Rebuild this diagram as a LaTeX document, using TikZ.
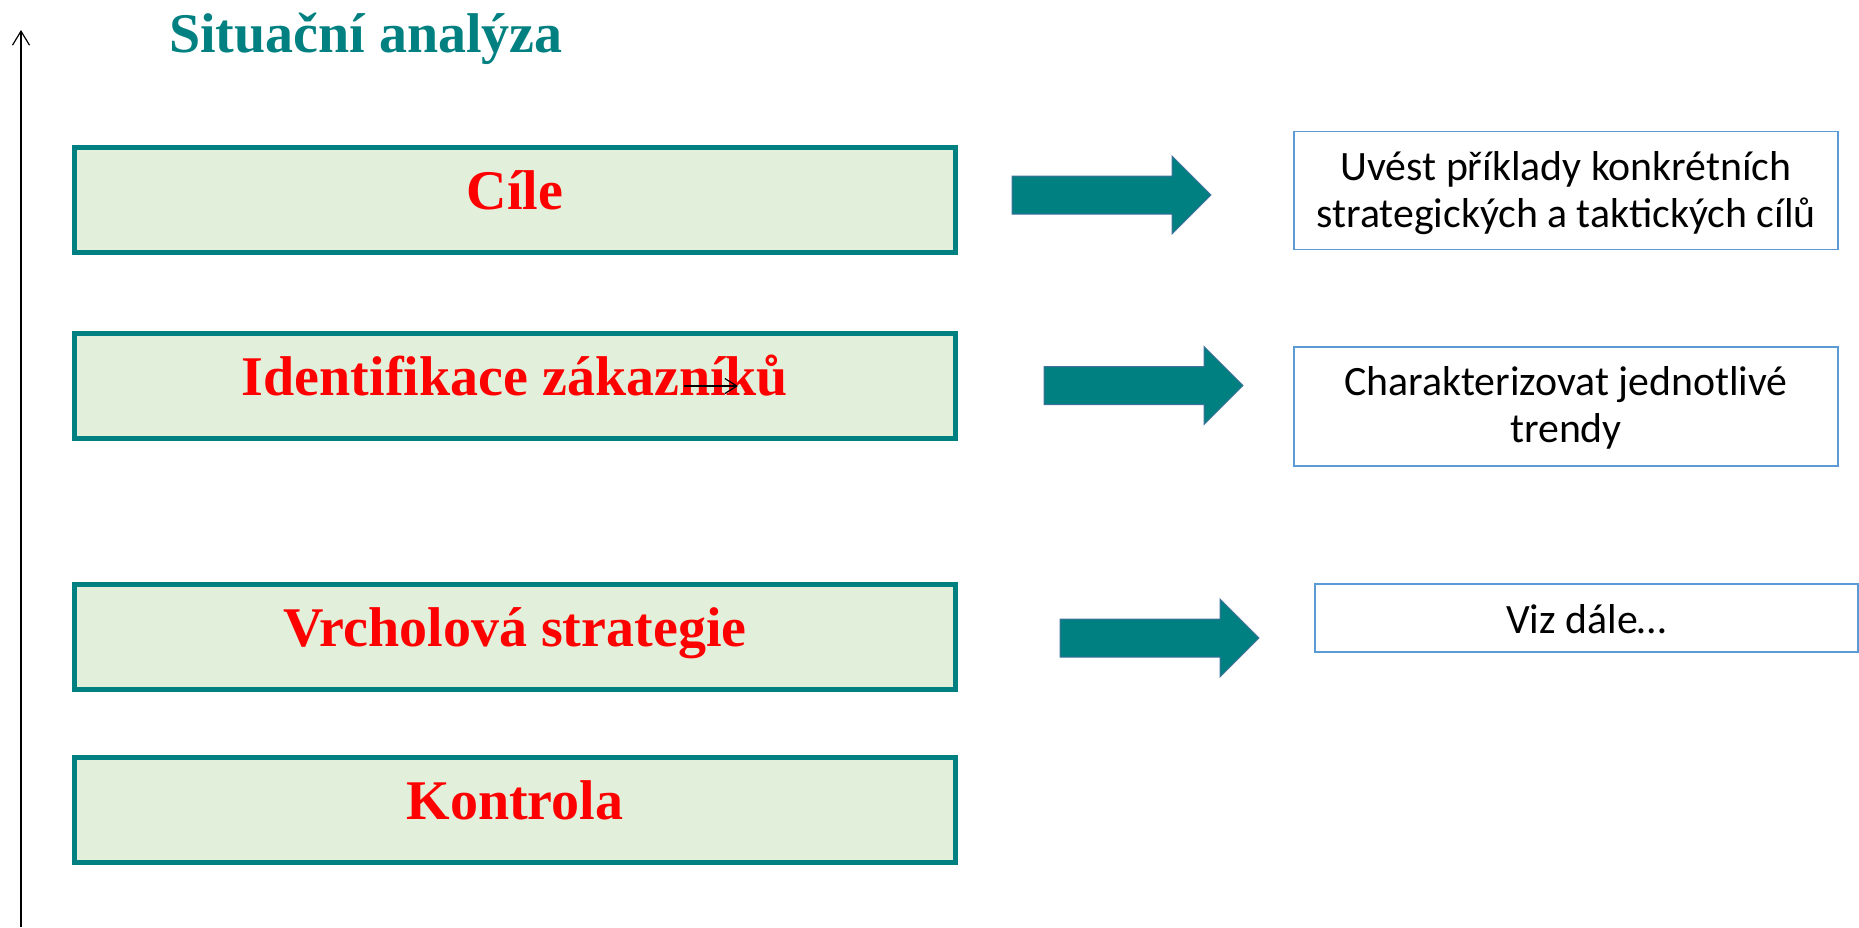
\documentclass[tikz,border=0pt]{standalone}
\usepackage{fontspec}
\setmainfont{Liberation Serif}
\newfontfamily\calib{Carlito}
\usetikzlibrary{arrows.meta}

\definecolor{tealc}{HTML}{008080}
\definecolor{paleg}{HTML}{E2EFDA}
\definecolor{boxblue}{HTML}{5B9BD5}
\definecolor{arrowedge}{HTML}{41719C}

\tikzset{
  stage/.style={draw=tealc, line width=2.5pt, fill=paleg, rectangle, inner sep=0pt,
    minimum width=440.5pt, minimum height=52.5pt,
    text=red, font={\fontsize{28}{32}\selectfont\bfseries},
    text height=15pt, text depth=5.5pt},
  notebox/.style={draw=boxblue, line width=0.7pt, fill=white, rectangle, inner sep=0pt},
  notetext/.style={anchor=base, inner sep=0pt, align=center,
    font={\calib\fontsize{20.9}{23.5}\selectfont}},
  arrowfill/.style={fill=tealc, draw=arrowedge, line width=0.5pt},
  blockarrow/.pic={\path[arrowfill] (0,-19) -- (160,-19) -- (160,-39) -- (199,0)
    -- (160,39) -- (160,19) -- (0,19) -- cycle;},
  thinarrow/.style={draw=black, line width=0.6pt, -{Straight Barb[length=7pt,width=8.5pt]}}
}

\begin{document}
\begin{tikzpicture}[x=0.5pt, y=-0.5pt]
\useasboundingbox (0,0) rectangle (1859,927);

% vertical axis
\coordinate (ax0) at (21,927);
\coordinate (ax1) at (21,30);
\draw[thinarrow] (ax0) -- (ax1);

% heading
\node[anchor=base, text=tealc, inner sep=0pt, font={\fontsize{28}{32}\selectfont\bfseries}]
  (title) at (366,52) {Situační analýza};

% stages
\node[stage] (cile) at (515,200) {Cíle};
\node[stage] (ident) at (515,386) {Identifikace zákazníků};
\node[stage] (vrch) at (515,637) {Vrcholová strategie};
\node[stage] (kontr) at (515,810) {Kontrola};

% small arrow over the second stage label
\coordinate (sa1) at (684,386);
\coordinate (sa2) at (738,386);
\draw[thinarrow, -{Straight Barb[length=6pt,width=7.5pt]}] (sa1) -- (sa2);

% block arrows
\pic at (1012,195) {blockarrow};
\pic at (1044,385.5) {blockarrow};
\pic at (1060,638) {blockarrow};

% notes: frames, then their text set on fixed baselines (base = last line)
\node[notebox, minimum width=272pt, minimum height=59pt] (noteA) at (1566,190.5) {};
\node[notebox, minimum width=272pt, minimum height=59.5pt] (noteB) at (1566,406.5) {};
\node[notebox, minimum width=271.5pt, minimum height=34pt] (noteC) at (1586.5,618) {};
\node[notetext] (noteAtext) at (1566,227)
  {Uvést příklady konkrétních\\strategických a taktických cílů};
\node[notetext] (noteBtext) at (1566,442)
  {Charakterizovat jednotlivé\\trendy};
\node[notetext] (noteCtext) at (1586.5,633) {Viz dále…};
\end{tikzpicture}
\end{document}
